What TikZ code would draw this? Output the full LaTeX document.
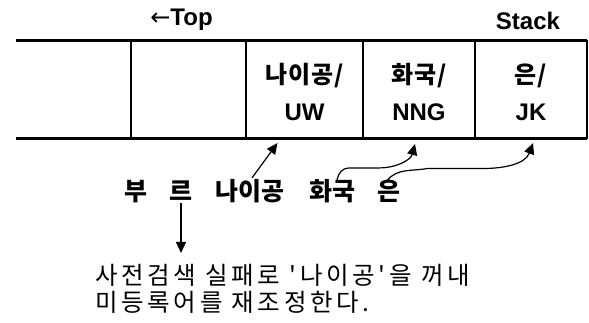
\documentclass[tikz,border=0pt]{standalone}
\usepackage{fontspec}
\setmainfont{Liberation Sans}
\newfontfamily\krfont{Noto Sans CJK KR}
\newfontfamily\krcell[LetterSpace=4]{Noto Sans CJK KR}
\newfontfamily\krmsg[LetterSpace=15]{Noto Sans CJK KR}
\newfontfamily\arrowfont{DejaVu Sans}
\usetikzlibrary{arrows.meta,calc}
\begin{document}
\begin{tikzpicture}[x=1pt,y=-1pt,
  lat/.style={font=\fontsize{24}{28}\selectfont\bfseries, inner sep=0pt},
  krc/.style={font=\krcell\fontsize{24}{28}\selectfont\bfseries, inner sep=0pt, anchor=base},
  latc/.style={font=\fontsize{24}{28}\selectfont\bfseries, inner sep=0pt, anchor=base},
  krb/.style={font=\krfont\fontsize{25}{30}\selectfont\bfseries, inner sep=0pt, outer sep=2pt, anchor=base},
  msgtext/.style={font=\krmsg\fontsize{24.5}{27}\selectfont, inner sep=0pt, anchor=base west},
  cell/.style={minimum height=98.5pt, inner sep=0pt, outer sep=0pt, anchor=north west},
  hline/.style={line width=3pt},
  vline/.style={line width=1.4pt},
  arr/.style={line width=1.2pt, -{Triangle[length=11pt,width=10pt]}}]
\useasboundingbox (0,0) rectangle (589,323);

% labels above
\node[lat] (toplbl) at (181.5,20) {{\arrowfont\mdseries ←}Top};
\node[lat] (stack) at (528,21) {Stack};

% cells
\node[cell, minimum width=115pt] (c1) at (16,40.5) {};
\node[cell, minimum width=115pt] (c2) at (131,40.5) {};
\node[cell, minimum width=117pt] (c3) at (246,40.5) {};
\node[cell, minimum width=112pt] (c4) at (363,40.5) {};
\node[cell, minimum width=112pt] (c5) at (475,40.5) {};

\draw[vline] (c2.north west) -- (c2.south west);
\draw[vline] (c3.north west) -- (c3.south west);
\draw[vline] (c4.north west) -- (c4.south west);
\draw[vline] (c5.north west) -- (c5.south west);
\draw[vline] (c5.north east) -- (c5.south east);
\draw[hline] (c1.north west) -- (c5.north east);
\draw[hline] (c1.south west) -- (c5.south east);

% cell texts
\node[krc] (k3) at (c3.center |- 0,84) {나이공/};
\node[latc] (l3) at (c3.center |- 0,120.5) {UW};
\node[krc] (k4) at (c4.center |- 0,84) {화국/};
\node[latc] (l4) at (c4.center |- 0,120.5) {NNG};
\node[krc] (k5) at (c5.center |- 0,84) {은/};
\node[latc] (l5) at (c5.center |- 0,120.5) {JK};

% input words
\node[krb] (bu) at (136,201) {부};
\node[krb] (reu) at (181,201) {르};
\node[krb] (nai) at (250,201) {나이공};
\node[krb] (hwa) at (332,201) {화국};
\node[krb] (eun) at (389,201) {은};

% message
\node[msgtext] (msg1) at (95,284.3) {사전검색 실패로 '나이공'을 꺼내};
\node[msgtext] (msg2) at (95,311.3) {미등록어를 재조정한다.};
\coordinate (tip) at (181,253);

% connectors
\draw[arr] ([xshift=2pt]nai.north) -- ([xshift=-27pt,yshift=-4pt]c3.south);
\draw[arr] ([xshift=5pt,yshift=-2pt]hwa.north) to[out=80,in=180] ++(12,-12) -- ++(30,0)
   to[out=0,in=-105] ([xshift=-4pt,yshift=-5pt]c4.south);
\draw[arr] ([xshift=-2pt,yshift=-2pt]eun.north) to[out=50,in=190] ++(40,-12) -- ++(55,0)
   to[out=0,in=-110] ([xshift=2pt,yshift=-4pt]c5.south);
\draw[arr] (reu.south) -- (reu.south |- tip);
\end{tikzpicture}
\end{document}
